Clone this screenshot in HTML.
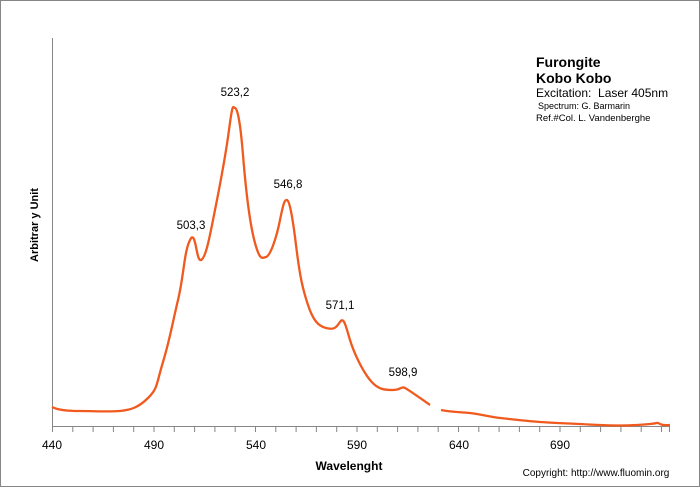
<!DOCTYPE html>
<html><head><meta charset="utf-8"><style>
body{margin:0;background:#fff}
svg{display:block;font-family:"Liberation Sans",Arial,sans-serif}
</style></head><body>
<svg width="700" height="487" viewBox="0 0 700 487">
<rect x="0.5" y="0.5" width="699" height="486" fill="#fff" stroke="#868686"/>
<line x1="52.5" y1="38" x2="52.5" y2="427" stroke="#868686"/>
<line x1="52" y1="426.5" x2="670" y2="426.5" stroke="#868686"/>
<g stroke="#868686">
<path d="M52.5 427v5M72.8 427v5M93.1 427v5M113.4 427v5M133.7 427v5M154 427v5M174.3 427v5M194.6 427v5M214.9 427v5M235.2 427v5M255.5 427v5M275.8 427v5M296.1 427v5M316.4 427v5M336.7 427v5M357 427v5M377.3 427v5M397.6 427v5M417.9 427v5M438.2 427v5M458.5 427v5M478.8 427v5M499.1 427v5M519.4 427v5M539.7 427v5M560 427v5M580.3 427v5M600.6 427v5M620.9 427v5M641.2 427v5M661.5 427v5M669.5 427v5"/>
</g>
<g font-size="12" fill="#000" text-anchor="middle">
<text x="52" y="449">440</text><text x="154" y="449">490</text><text x="256" y="449">540</text><text x="357" y="449">590</text><text x="459" y="449">640</text><text x="560" y="449">690</text>
</g>
<text x="349" y="470" font-size="12" font-weight="bold" text-anchor="middle">Wavelenght</text>
<text x="596" y="476" font-size="10" text-anchor="middle">Copyright: http://www.fluomin.org</text>
<text transform="translate(38,225) rotate(-90)" font-size="11" font-weight="bold" text-anchor="middle">Arbitrar y Unit</text>
<g fill="#000">
<text x="536" y="67" font-size="14" font-weight="bold">Furongite</text>
<text x="536" y="83" font-size="14" font-weight="bold">Kobo Kobo</text>
<text x="536" y="97" font-size="12">Excitation:&#160; Laser 405nm</text>
<text x="538" y="109" font-size="9">Spectrum: G. Barmarin</text>
<text x="536" y="121" font-size="9.5">Ref.#Col. L. Vandenberghe</text>
</g>
<g font-size="11.5" text-anchor="middle">
<text x="191" y="229">503,3</text><text x="235" y="96">523,2</text><text x="288" y="188">546,8</text><text x="340" y="309">571,1</text><text x="403" y="376">598,9</text>
</g>
<path fill="none" stroke="#f05a1e" stroke-width="2.3" stroke-linejoin="round" d="M52 407 C58 410,66 411,80 411 S110 412,120 411 S138 408,148 398 S156 385,163 362 S172 325,178 300 S184 252,190 240 S196 262,201 260 S210 235,215 210 S225 160,229 130 S233 108,235 108 S240 118,243 155 S250 225,255 243 S262 258,266 257 S276 240,280 220 S285 200,287 200 S292 212,296 245 S303 290,308 305 S318 326,326 328 S336 328,340 322 S346 327,350 340 S362 370,370 380 S385 390,393 390 S401 386,405 388 S420 398,430 405"/>
<path fill="none" stroke="#f05a1e" stroke-width="2.3" d="M441 410 C450 412,460 412,470 413 S490 417,500 418 S525 421,540 422 S580 424,600 425 S640 425,650 424 S656 422,660 424 S666 425,670 425"/>
</svg>
</body></html>
